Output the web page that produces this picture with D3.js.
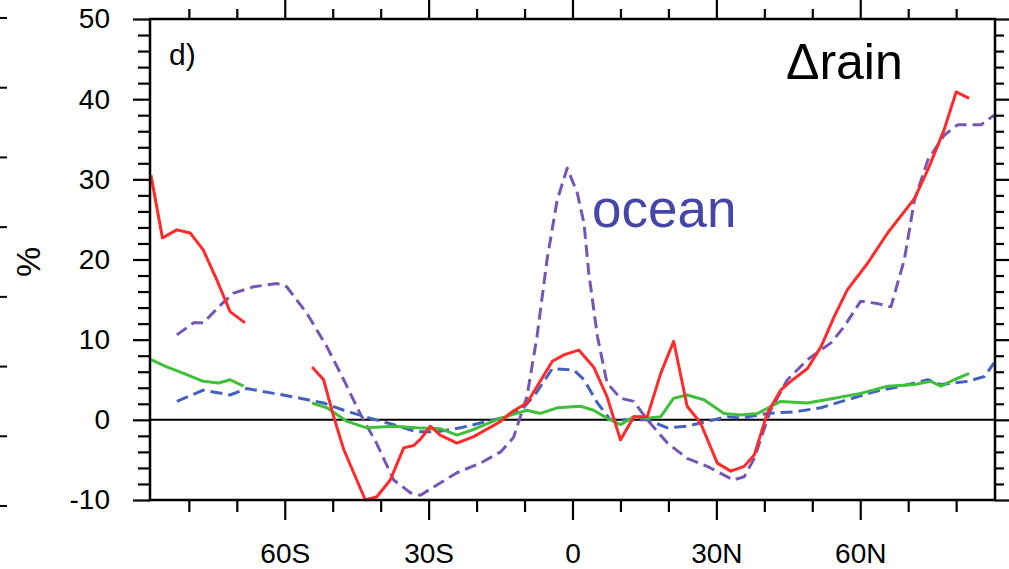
<!DOCTYPE html>
<html>
<head>
<meta charset="utf-8">
<script src="https://cdn.jsdelivr.net/npm/d3@7"></script>
<style>
  html, body { margin: 0; padding: 0; background: #fff; }
  svg { display: block; }
  text { font-family: "Liberation Sans", Arial, Helvetica, sans-serif; fill: #000; }
</style>
</head>
<body>
<svg id="chart" width="1009" height="569"></svg>
<script>
// Zonal-mean rain change (%) by latitude; null marks a gap in a series.
const landLat = [-87.9, -85.5, -82.5, -79.7, -77, -74.2, -71.4, -68.3, -61,
  -54.3, -51.9, -49.8, -47.7, -43.2, -40.8, -38, -35.2, -33.1, -31.7, -29.6, -27.6,
  -24.1, -20.6, -15, -12.6, -9.5, -4.2, -1.8, 1.3, 4.4, 7.2, 10, 12.8, 15.6, 18.4,
  21.1, 23.9, 26.7, 30.2, 33, 35.8, 37.9, 40.6, 43.4, 45.5, 49, 51.8, 54.6, 57.3,
  61.5, 65.7, 71.3, 74.1, 77.5, 80, 82.7];
const landRain = [30.5, 22.7, 23.7, 23.3, 21.2, 17.5, 13.5, 12.1, null,
  6.6, 5.0, 0.4, -3.7, -10, -9.6, -7.5, -3.5, -3.2, -2.4, -0.8, -1.9,
  -2.9, -2.1, -0.2, 1.0, 2.1, 7.3, 8.1, 8.7, 6.6, 2.9, -2.5, 0.4, 0.4, 5.8,
  9.8, 1.7, -0.4, -5.4, -6.4, -5.8, -4.4, 0.8, 3.7, 4.8, 6.4, 9.1, 12.9, 16.2,
  19.5, 23.3, 27.6, 31.2, 36.2, 40.9, 40.1];

const allLat = [-87.9, -84.6, -81.1, -77, -73.8, -71.4, -68.6, -61,
  -54.3, -51.2, -47, -42.9, -37.3, -32.4, -27.6, -24.1, -20.6, -15, -9.5, -6.7,
  -3.2, 1.7, 4.4, 7.2, 10, 12.8, 15.6, 18.4, 21.1, 23.9, 27.4, 31.6, 35.1, 38.6,
  43.4, 49, 54.6, 60.1, 65.7, 71.3, 74.7, 76.8, 79.6, 82.7];
const allRain = [7.5, 6.6, 5.8, 4.8, 4.6, 5.0, 4.2, null,
  2.1, 1.5, -0.2, -1.0, -0.8, -1.0, -1.1, -1.9, -1.2, 0.2, 1.2, 0.8,
  1.5, 1.7, 1.2, 0.2, -0.6, 0.4, 0.2, 0.4, 2.7, 3.1, 2.5, 0.8, 0.6, 0.8,
  2.3, 2.1, 2.7, 3.3, 4.2, 4.4, 4.8, 4.2, 5.0, 5.8];

const oceanLat = [-82.5, -77, -71.4, -67.9, -62.3, -56.8, -51.9, -47.7, -42.2,
  -37.3, -32.4, -28.2, -23.4, -19.2, -15, -10.2, -7.4, -4.2, 0.3, 2.4, 5.2, 7.9,
  11.4, 15.6, 19.8, 23.9, 28.1, 32.3, 35.1, 40.6, 46.2, 51.8, 57.3, 62.9, 68.5,
  74.1, 76.8, 82.4, 85.9, 87.9];
const oceanRain = [2.3, 3.7, 3.1, 3.9, 3.3, 2.7, 2.1, 1.2, 0.2,
  -0.6, -1.5, -1.5, -1.0, -0.4, 0.2, 1.5, 3.5, 6.4, 6.2, 5.0, 2.1, 0,
  0, 0, -1.0, -0.8, -0.2, 0.4, 0.2, 0.8, 1.0, 1.5, 2.5, 3.5, 4.2,
  5.0, 4.4, 4.8, 5.4, 7.1];

const oceanAltLat = [-82.5, -79, -77, -73.4, -70.7, -66.5, -61.6, -59.6, -55.4,
  -51.2, -47.7, -44.3, -40.8, -37.3, -33.8, -31.7, -28.2, -24.1, -19.2, -15,
  -12.3, -9.5, -7.4, -5.3, -3.2, -1.1, 1.0, 2.4, 3.4, 5.2, 7.2, 10, 12.8, 15.6,
  19.8, 23.9, 28.1, 31.6, 33.5, 35.8, 37.9, 41.3, 44.8, 49, 53.9, 56.6, 60.1,
  63.6, 66.4, 69.2, 71.3, 74.1, 77.5, 80.3, 85.2, 87.9];
const oceanAltRain = [10.6, 12.1, 12.1, 14.3, 15.8, 16.6, 17.0, 16.6, 13.3,
  9.1, 5.0, 0.8, -3.0, -7.5, -9.1, -9.4, -8.1, -6.6, -5.4, -4.0,
  -2.2, 2.9, 10.4, 20.0, 27.4, 31.4, 28.3, 24.5, 18.3, 10.4, 4.6, 2.7, 2.3, 0,
  -2.9, -4.8, -5.8, -6.9, -7.5, -7.1, -4.8, 1.2, 5.0, 7.5, 9.6, 11.6, 14.8,
  14.5, 14.1, 20.0, 27.4, 32.4, 35.5, 36.8, 36.8, 38.0];

const latMajor = [-60, -30, 0, 30, 60];
const latLabels = ["60S", "30S", "0", "30N", "60N"];
const latMinor = [-80, -70, -50, -40, -20, -10, 10, 20, 40, 50, 70, 80];
const valMajor = [-10, 0, 10, 20, 30, 40, 50];
const valMinor = d3.range(-10, 51, 2).filter(v => v % 10 !== 0);
// ticks of the neighbouring panel's axis, visible at the left edge
const sideTicks = [0, 1, 2, 3, 4, 5, 6, 7];

const series = [
  { lat: oceanAltLat, val: oceanAltRain, color: "#7656b4", dash: "12,6" },
  { lat: oceanLat, val: oceanRain, color: "#4362bd", dash: "12,6" },
  { lat: allLat, val: allRain, color: "#3fbf3a", dash: null },
  { lat: landLat, val: landRain, color: "#ff2b2b", dash: null }
];

const svg = d3.select("#chart");
svg.append("rect").attr("width", 1009).attr("height", 569).attr("fill", "#fff");

const L = 150, R = 995, T = 19, B = 500;
const x = d3.scaleLinear().domain([-88.1, 88.1]).range([L, R]);
const y = d3.scaleLinear().domain([-10, 50]).range([B, T]);

const fmtLat = d => latLabels[latMajor.indexOf(d)];

function styleAxis(g) {
  g.select(".domain").remove();
  g.selectAll(".tick line").attr("stroke", "#000").attr("stroke-width", 2.2);
  g.selectAll(".tick text").attr("font-size", 28).attr("fill", "#000")
    .attr("font-family", "'Liberation Sans', Arial, Helvetica, sans-serif");
}

// bottom axis
svg.append("g").attr("transform", `translate(0,${B})`)
  .call(d3.axisBottom(x).tickValues(latMinor).tickSize(12).tickFormat(""))
  .call(styleAxis);
svg.append("g").attr("transform", `translate(0,${B})`)
  .call(d3.axisBottom(x).tickValues(latMajor).tickSize(20).tickPadding(23).tickFormat(fmtLat))
  .call(styleAxis);
// top axis
svg.append("g").attr("transform", `translate(0,${T})`)
  .call(d3.axisTop(x).tickValues(latMinor).tickSize(10).tickFormat(""))
  .call(styleAxis);
svg.append("g").attr("transform", `translate(0,${T})`)
  .call(d3.axisTop(x).tickValues(latMajor).tickSize(20).tickFormat(""))
  .call(styleAxis);
// left axis
svg.append("g").attr("transform", `translate(${L},0)`)
  .call(d3.axisLeft(y).tickValues(valMinor).tickSize(12).tickFormat(""))
  .call(styleAxis);
svg.append("g").attr("transform", `translate(${L},0)`)
  .call(d3.axisLeft(y).tickValues(valMajor).tickSize(17).tickPadding(23).tickFormat(d => String(d)))
  .call(styleAxis);
// right axis
svg.append("g").attr("transform", `translate(${R},0)`)
  .call(d3.axisRight(y).tickValues(valMinor).tickSize(9).tickFormat(""))
  .call(styleAxis);
svg.append("g").attr("transform", `translate(${R},0)`)
  .call(d3.axisRight(y).tickValues(valMajor).tickSize(14).tickFormat(""))
  .call(styleAxis);

// neighbouring panel ticks at the far left
const ySide = d3.scaleLinear().domain([0, 7]).range([18, 506]);
svg.append("g").selectAll("line").data(sideTicks).join("line")
  .attr("x1", 0).attr("x2", 7)
  .attr("y1", d => ySide(d)).attr("y2", d => ySide(d))
  .attr("stroke", "#000").attr("stroke-width", 2);

// zero reference line
svg.append("line")
  .attr("x1", L).attr("x2", R).attr("y1", y(0)).attr("y2", y(0))
  .attr("stroke", "#000").attr("stroke-width", 2);

// curves
svg.append("clipPath").attr("id", "plotclip")
  .append("rect").attr("x", L).attr("y", T).attr("width", R - L).attr("height", B - T + 2);

const line = d3.line()
  .defined(d => d[1] !== null)
  .x(d => x(d[0])).y(d => y(d[1]));

const curves = svg.append("g").attr("clip-path", "url(#plotclip)");
series.forEach(s => {
  const pts = s.lat.map((la, i) => [la, s.val[i]]);
  curves.append("path")
    .attr("d", line(pts))
    .attr("fill", "none")
    .attr("stroke", s.color)
    .attr("stroke-width", 3)
    .attr("stroke-linejoin", "round")
    .attr("stroke-dasharray", s.dash);
});

// frame
svg.append("rect")
  .attr("x", L).attr("y", T).attr("width", R - L).attr("height", B - T)
  .attr("fill", "none").attr("stroke", "#000").attr("stroke-width", 2.5);

// labels
svg.append("text").attr("transform", "translate(40,262) rotate(-90)")
  .attr("text-anchor", "middle").attr("font-size", 34).text("%");
svg.append("text").attr("x", 169).attr("y", 65).attr("font-size", 30).text("d)");
svg.append("text").attr("x", 786).attr("y", 79).attr("font-size", 50).text("\u0394rain");
svg.append("text").attr("x", 592).attr("y", 227).attr("font-size", 53)
  .style("fill", "#4646a8").text("ocean");
</script>
</body>
</html>
